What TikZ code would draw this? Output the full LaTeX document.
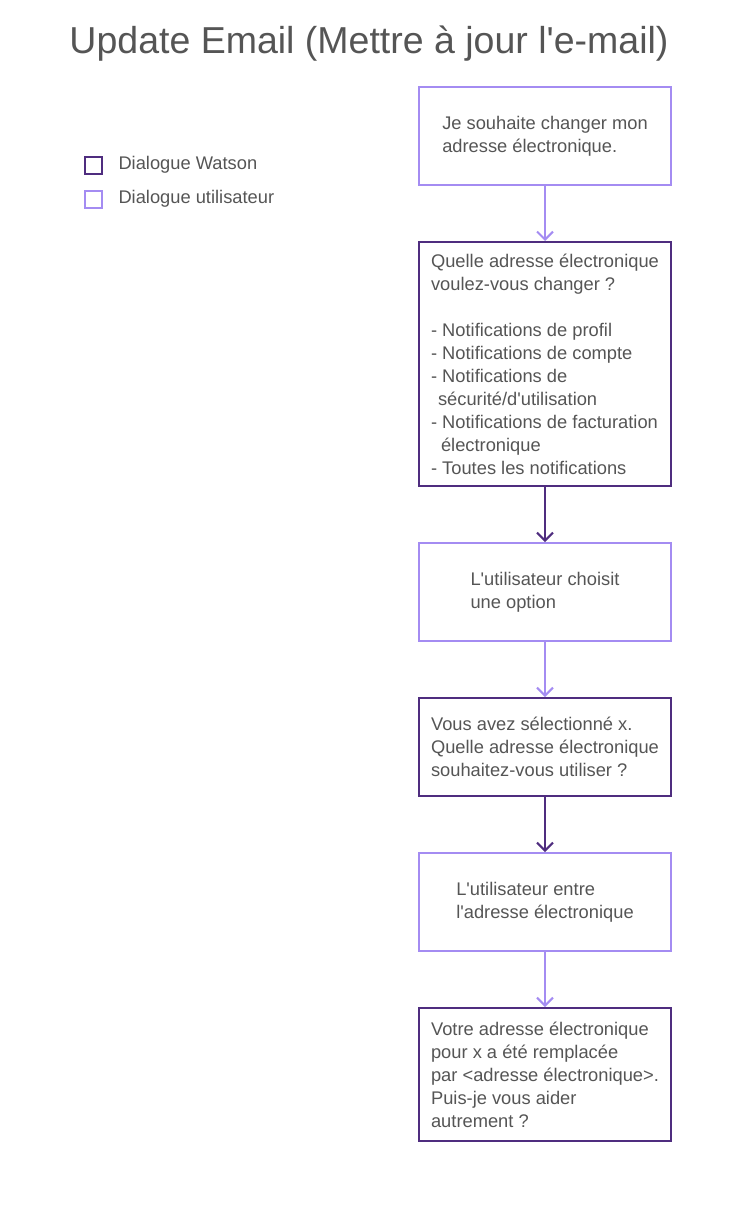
\documentclass[tikz,border=0pt]{standalone}
\usepackage{fontspec}
\setmainfont{Liberation Sans}
\usetikzlibrary{positioning,arrows.meta}
\definecolor{watson}{HTML}{4F2D7F}
\definecolor{user}{HTML}{A48CF2}
\definecolor{txt}{HTML}{555555}
\tikzset{>={Straight Barb[length=8pt,width=16pt]}}
\newcommand{\ap}{\textquotesingle}

\begin{document}
\begin{tikzpicture}[x=1pt, y=1pt, node distance=55pt,
    box/.style={draw, line width=2pt, minimum width=252pt, inner sep=0pt,
      align=left, text=txt, font=\fontsize{18.3}{23}\selectfont},
    wbox/.style={box, draw=watson},
    ubox/.style={box, draw=user},
    key/.style={draw, line width=2pt, minimum size=17pt, inner sep=0pt},
    keytext/.style={anchor=west, text=txt, font=\fontsize{18.3}{23}\selectfont}]
    \useasboundingbox (0,0) rectangle (738,-1210);
    \node[text=txt, font=\fontsize{37.5}{42}\selectfont] (title) at (369,-44)
        {Update Email (Mettre à jour l\ap e-mail)};
    % legend
    \node[key, draw=watson] (kw) at (93,-165) {};
    \node[key, draw=user] (ku) at (93,-199) {};
    \node[keytext] (kwt) at (115,-165) {Dialogue Watson};
    \node[keytext] (kut) at (115,-199) {Dialogue utilisateur};
    % flow
    \node[ubox, minimum height=98pt] (s1) at (545,-136)
        {Je souhaite changer mon\\adresse électronique.};
    \node[wbox, minimum height=244pt] (s2) [below=of s1]
        {Quelle adresse électronique\\voulez-vous changer ?\\[23pt]
         - Notifications de profil\\- Notifications de compte\\
         - Notifications de\\\hspace{7pt}sécurité/d\ap utilisation\\
         - Notifications de facturation\\\hspace{10pt}électronique\\
         - Toutes les notifications};
    \node[ubox, minimum height=98pt] (s3) [below=of s2]
        {L\ap utilisateur choisit\\une option};
    \node[wbox, minimum height=98pt] (s4) [below=of s3]
        {Vous avez sélectionné x.\\Quelle adresse électronique\\souhaitez-vous utiliser ?};
    \node[ubox, minimum height=98pt] (s5) [below=of s4]
        {L\ap utilisateur entre\\l\ap adresse électronique};
    \node[wbox, minimum height=133pt] (s6) [below=of s5]
        {Votre adresse électronique\\pour x a été remplacée\\par <adresse électronique>.\\Puis-je vous aider\\autrement ?};
    \path[->, line width=2pt]
        (s1) edge[user] (s2)
        (s2) edge[watson] (s3)
        (s3) edge[user] (s4)
        (s4) edge[watson] (s5)
        (s5) edge[user] (s6);
\end{tikzpicture}
\end{document}
